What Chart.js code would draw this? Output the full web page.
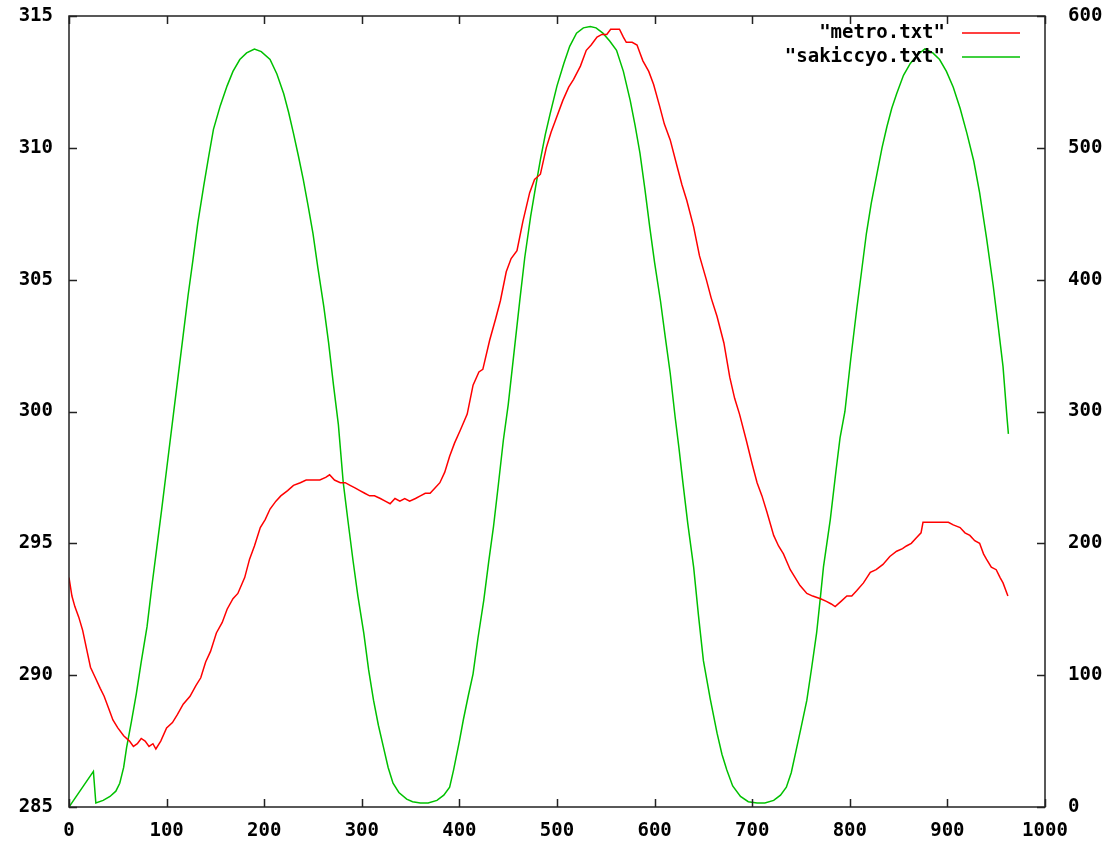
<!DOCTYPE html>
<html lang="en">
<head>
    <meta charset="UTF-8">
    <title>metro / sakiccyo</title>
    <script src="https://cdn.jsdelivr.net/npm/chart.js"></script>
    <style>
        body {
            margin: 0;
            padding: 0;
            background: #fff;
        }

        .chart-container {
            width: 1118px;
            height: 843px;
            position: relative;
        }
    </style>
</head>
<body>

<div class="chart-container">
    <canvas id="plot"></canvas>
</div>

<script>
    // metro.txt (left axis)
    const metroX = [0, 3, 6, 10, 14, 18, 22, 27, 32, 36, 40, 45, 50, 56, 62, 66, 70, 74, 78, 82, 86, 89, 94,
        100, 106, 111, 117, 124, 130, 135, 140, 145, 151, 157, 162, 168, 173, 180, 185, 190, 196,
        201, 206, 212, 217, 224, 230, 237, 243, 250, 257, 263, 267, 272, 278, 283, 288, 293, 298,
        303, 308, 313, 319, 324, 329, 334, 339, 344, 349, 355, 360, 365, 370, 375, 380, 385, 390, 395,
        401, 408, 414, 420, 424, 431, 437, 442, 448, 453, 459, 465, 472, 477, 483, 489, 494, 498,
        506, 512, 517, 524, 530, 535, 541, 546, 551, 555, 558, 564, 568, 571, 577, 582, 585, 588, 594, 599,
        605, 610, 616, 623, 628, 633, 640, 646, 653, 658, 664, 671, 677, 682, 687, 694, 700,
        705, 710, 715, 722, 727, 732, 739, 744, 749, 756, 762, 770, 776, 781, 785, 791, 797,
        802, 807, 814, 821, 827, 834, 841, 848, 854, 858, 863, 868, 873, 875, 882, 889, 895,
        901, 906, 913, 918, 923, 928, 933, 937, 940, 945, 950, 954, 957, 962];
    const metroY = [293.7, 293.0, 292.6, 292.2, 291.7, 291.0, 290.3, 289.9, 289.5, 289.2, 288.8, 288.3, 288.0, 287.7, 287.5, 287.3, 287.4, 287.6, 287.5, 287.3, 287.4, 287.2, 287.5,
        288.0, 288.2, 288.5, 288.9, 289.2, 289.6, 289.9, 290.5, 290.9, 291.6, 292.0, 292.5, 292.9, 293.1, 293.7, 294.4, 294.9, 295.6,
        295.9, 296.3, 296.6, 296.8, 297.0, 297.2, 297.3, 297.4, 297.4, 297.4, 297.5, 297.6, 297.4, 297.3, 297.3, 297.2, 297.1, 297.0,
        296.9, 296.8, 296.8, 296.7, 296.6, 296.5, 296.7, 296.6, 296.7, 296.6, 296.7, 296.8, 296.9, 296.9, 297.1, 297.3, 297.7, 298.3, 298.8,
        299.3, 299.9, 301.0, 301.5, 301.6, 302.7, 303.5, 304.2, 305.3, 305.8, 306.1, 307.2, 308.3, 308.8, 309.0, 310.0, 310.6, 311.0,
        311.8, 312.3, 312.6, 313.1, 313.7, 313.9, 314.2, 314.3, 314.3, 314.5, 314.5, 314.5, 314.2, 314.0, 314.0, 313.9, 313.6, 313.3, 312.9, 312.4,
        311.6, 310.9, 310.3, 309.3, 308.6, 308.0, 307.0, 305.9, 305.0, 304.3, 303.6, 302.6, 301.3, 300.5, 299.9, 298.9, 298.0,
        297.3, 296.8, 296.2, 295.3, 294.9, 294.6, 294.0, 293.7, 293.4, 293.1, 293.0, 292.9, 292.8, 292.7, 292.6, 292.8, 293.0,
        293.0, 293.2, 293.5, 293.9, 294.0, 294.2, 294.5, 294.7, 294.8, 294.9, 295.0, 295.2, 295.4, 295.8, 295.8, 295.8, 295.8,
        295.8, 295.7, 295.6, 295.4, 295.3, 295.1, 295.0, 294.6, 294.4, 294.1, 294.0, 293.7, 293.5, 293.0];

    // sakiccyo.txt (right axis)
    const sakiX = [0, 25, 27.5, 35, 42, 48, 52, 56, 59, 64, 69, 74, 80, 85, 90, 95,
        100, 107, 112, 117, 122, 127, 132, 138, 143, 148, 155, 162, 168, 175, 182, 190, 197,
        206, 213, 220, 225, 230, 235, 240, 245, 250, 255, 261, 266, 271, 276, 281, 286, 291, 296,
        302, 307, 312, 317, 322, 327, 332, 338, 346, 352, 360, 368, 377, 384, 390, 394,
        400, 404, 409, 414, 419, 425, 430, 435, 440, 445, 450, 456, 462, 467, 473, 478, 483, 488, 493,
        500, 507, 513, 520, 527, 534, 540, 547, 554, 561, 568, 575, 580, 585, 590, 595,
        600, 606, 611, 616, 621, 625, 629, 634, 640, 645, 650, 657, 664, 669, 674, 680, 688, 696,
        705, 713, 722, 729, 735, 740, 745, 750, 756, 761, 766, 770, 773, 780, 786, 790, 795,
        801, 807, 812, 817, 822, 828, 833, 838, 843, 848, 855, 862, 870, 877, 885, 892, 899,
        906, 913, 920, 927, 933, 940, 947, 952, 957, 961, 962.5];
    const sakiY = [0, 27, 3, 5, 8, 12, 18, 30, 45, 65, 86, 110, 137, 168, 197, 226,
        256, 298, 328, 358, 388, 415, 443, 471, 493, 514, 532, 547, 558, 567, 572, 575, 573,
        567, 556, 541, 527, 511, 494, 476, 456, 435, 409, 380, 352, 320, 290, 246, 216, 187, 160,
        132, 104, 81, 62, 46, 30, 18, 11, 6, 4, 3, 3, 5, 9, 15, 28,
        50, 66, 84, 101, 128, 157, 186, 213, 245, 278, 305, 345, 385, 417, 448, 470, 491, 510, 526,
        547, 564, 577, 587, 591, 592, 591, 587, 581, 574, 558, 536, 517, 496, 469, 440,
        413, 384, 356, 329, 296, 272, 246, 215, 182, 145, 111, 82, 56, 40, 28, 16, 8, 4,
        3, 3, 5, 9, 15, 26, 43, 60, 81, 106, 132, 160, 182, 218, 256, 280, 300,
        340, 377, 406, 435, 458, 481, 500, 516, 530, 541, 555, 564, 571, 575, 572, 567, 558,
        546, 530, 511, 490, 466, 432, 395, 365, 334, 296, 283];

    const seriesNames = ['"metro.txt"', '"sakiccyo.txt"'];
    const seriesColors = ['#ff0000', '#00c000'];

    const tickFont = { family: 'DejaVu Sans Mono', size: 19, weight: 'bold' };

    function toPoints(xs, ys) {
        return xs.map((x, i) => ({ x: x, y: ys[i] }));
    }

    // gnuplot style frame, inward ticks and key
    const framePlugin = {
        id: 'frame',
        afterDatasetsDraw(chart) {
            const c = chart.ctx;
            const a = chart.chartArea;
            const sx = chart.scales.x, sy = chart.scales.y, sy2 = chart.scales.y2;
            const tl = 8;
            c.save();
            c.strokeStyle = '#222';
            c.lineWidth = 1.5;
            c.strokeRect(a.left, a.top, a.right - a.left, a.bottom - a.top);
            c.beginPath();
            sx.ticks.forEach(t => {
                const px = Math.round(sx.getPixelForValue(t.value)) + 0.5;
                c.moveTo(px, a.bottom); c.lineTo(px, a.bottom - tl);
                c.moveTo(px, a.top); c.lineTo(px, a.top + tl);
            });
            sy.ticks.forEach(t => {
                const py = Math.round(sy.getPixelForValue(t.value)) + 0.5;
                c.moveTo(a.left, py); c.lineTo(a.left + tl, py);
            });
            sy2.ticks.forEach(t => {
                const py = Math.round(sy2.getPixelForValue(t.value)) + 0.5;
                c.moveTo(a.right, py); c.lineTo(a.right - tl, py);
            });
            c.stroke();

            // key
            c.font = 'bold 19px "DejaVu Sans Mono"';
            c.textAlign = 'right';
            c.textBaseline = 'middle';
            chart.data.datasets.forEach((ds, i) => {
                const y = a.top + 17 + i * 24;
                c.fillStyle = '#000';
                c.fillText(ds.label, a.right - 100, y);
                c.strokeStyle = ds.borderColor;
                c.lineWidth = 1.5;
                c.beginPath();
                c.moveTo(a.right - 83, y);
                c.lineTo(a.right - 25, y);
                c.stroke();
            });
            c.restore();
        }
    };

    const plainLabel = v => String(v);

    const ctx = document.getElementById('plot').getContext('2d');
    new Chart(ctx, {
        type: 'line',
        data: {
            datasets: [
                {
                    label: seriesNames[0],
                    data: toPoints(metroX, metroY),
                    borderColor: seriesColors[0],
                    borderWidth: 1.5,
                    pointRadius: 0,
                    tension: 0,
                    fill: false,
                    yAxisID: 'y'
                },
                {
                    label: seriesNames[1],
                    data: toPoints(sakiX, sakiY),
                    borderColor: seriesColors[1],
                    borderWidth: 1.5,
                    pointRadius: 0,
                    tension: 0,
                    fill: false,
                    yAxisID: 'y2'
                }
            ]
        },
        options: {
            responsive: true,
            maintainAspectRatio: false,
            animation: false,
            layout: { padding: { top: 16 } },
            plugins: {
                legend: { display: false },
                tooltip: { enabled: false }
            },
            scales: {
                x: {
                    type: 'linear',
                    min: 0,
                    max: 1000,
                    grid: { display: false, drawTicks: false },
                    border: { display: false },
                    ticks: { stepSize: 100, font: tickFont, color: '#000', padding: 13, maxRotation: 0, callback: plainLabel },
                    afterFit(scale) { scale.height = 36; scale.paddingLeft = 0; scale.paddingRight = 0; }
                },
                y: {
                    position: 'left',
                    min: 285,
                    max: 315,
                    grid: { display: false, drawTicks: false },
                    border: { display: false },
                    ticks: { stepSize: 5, font: tickFont, color: '#000', padding: 16, callback: plainLabel },
                    afterFit(scale) { scale.width = 69; scale.paddingTop = 0; scale.paddingBottom = 0; }
                },
                y2: {
                    position: 'right',
                    min: 0,
                    max: 600,
                    grid: { display: false, drawTicks: false },
                    border: { display: false },
                    ticks: { stepSize: 100, font: tickFont, color: '#000', padding: 23, callback: plainLabel },
                    afterFit(scale) { scale.width = 73; scale.paddingTop = 0; scale.paddingBottom = 0; }
                }
            }
        },
        plugins: [framePlugin]
    });
</script>

</body>
</html>
